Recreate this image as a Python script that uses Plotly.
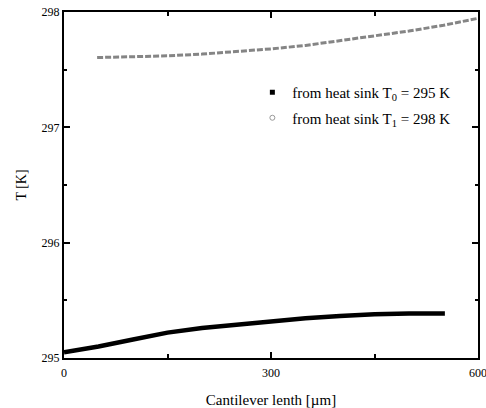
import plotly.graph_objects as go

# Data
x_t0 = [0, 50, 100, 150, 200, 250, 300, 350, 400, 450, 500, 552]
T_t0 = [295.05, 295.10, 295.16, 295.22, 295.26, 295.29, 295.32, 295.345, 295.365, 295.38, 295.385, 295.385]

x_t1 = [48, 100, 150, 200, 250, 300, 350, 400, 450, 500, 550, 600]
T_t1 = [297.605, 297.61, 297.62, 297.635, 297.655, 297.68, 297.71, 297.75, 297.79, 297.835, 297.885, 297.945]

label_t0 = "from heat sink T<sub>0</sub> = 295 K"
label_t1 = "from heat sink T<sub>1</sub> = 298 K"

x_ticks = [0, 300, 600]
y_ticks = [295, 296, 297, 298]

FONT = "Liberation Serif, Times New Roman, serif"

fig = go.Figure()
fig.add_trace(go.Scatter(x=x_t0, y=T_t0, mode="lines", line=dict(color="black", width=4.5),
                         showlegend=False))
fig.add_trace(go.Scatter(x=x_t1, y=T_t1, mode="lines", line=dict(color="#858585", width=3, dash="6px,2px"),
                         showlegend=False))
# legend entries
fig.add_trace(go.Scatter(x=[None], y=[None], mode="markers", name=label_t0, legendgroup="a",
                         marker=dict(symbol="square", size=5, color="black")))
fig.add_trace(go.Scatter(x=[None], y=[None], mode="markers", name=label_t1, legendgroup="b",
                         marker=dict(symbol="circle-open", size=5, color="#999999", line=dict(width=1))))

axis_common = dict(showgrid=False, zeroline=False, showline=True, linecolor="black", linewidth=2,
                   mirror="ticks", ticks="inside", ticklen=6, tickwidth=1.5, tickcolor="black",
                   automargin=False, ticklabeloverflow="allow",
                   tickfont=dict(family=FONT, size=12, color="black"))

fig.update_xaxes(range=[0, 600], tickvals=x_ticks, ticktext=[str(v) for v in x_ticks],
                 minor=dict(ticks="inside", ticklen=4, tickwidth=1.5, tickcolor="black", dtick=150, tick0=0),
                 ticklabelstandoff=3,
                 title=dict(text="Cantilever lenth [µm]", font=dict(family=FONT, size=15, color="black"), standoff=15),
                 **axis_common)
fig.update_yaxes(range=[295, 298], tickvals=y_ticks, ticktext=[str(v) for v in y_ticks],
                 minor=dict(ticks="inside", ticklen=3, tickwidth=1.5, tickcolor="black", dtick=0.5, tick0=295),
                 title=dict(text="T [K]", font=dict(family=FONT, size=14, color="black"), standoff=12),
                 **axis_common)

fig.update_layout(width=486, height=408, margin=dict(l=64, r=8, t=12, b=50),
                  paper_bgcolor="white", plot_bgcolor="white",
                  font=dict(family=FONT, size=12, color="black"),
                  legend=dict(x=0.455, y=0.815, xanchor="left", yanchor="top", bgcolor="rgba(0,0,0,0)",
                              itemwidth=30, tracegroupgap=3,
                              font=dict(family=FONT, size=15, color="black")))

fig.write_html("out.html", config={"displayModeBar": False},
               post_script="document.body.style.margin='0';")
